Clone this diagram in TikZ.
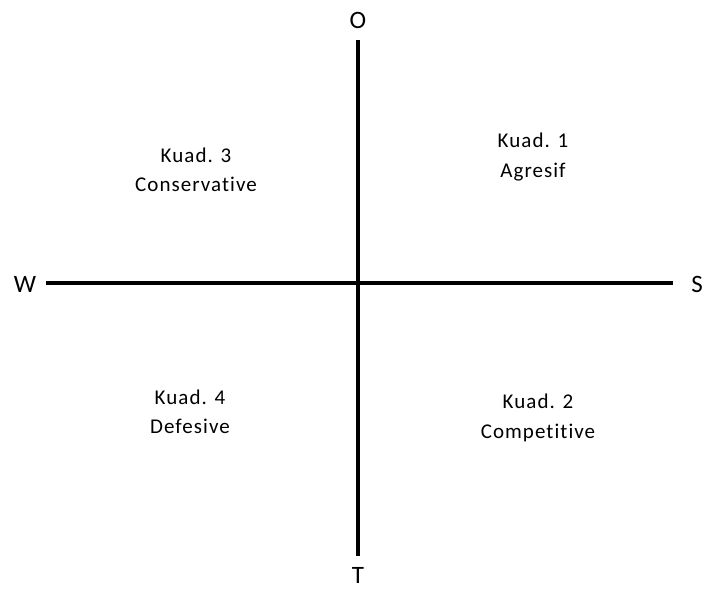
\documentclass[tikz,border=0pt]{standalone}
\usepackage{fontspec}
\setmainfont[Ligatures=NoCommon]{Carlito}
\newfontfamily\quadfont[Ligatures=NoCommon,LetterSpace=5]{Carlito}
\begin{document}
\begin{tikzpicture}[x=1pt,y=-1pt,
  axis/.style={line width=3.2pt,black},
  axlabel/.style={font=\fontsize{25}{30}\selectfont,inner sep=0pt},
  quad/.style={font=\quadfont\fontsize{21}{29.5}\selectfont,align=center,inner sep=0pt}]
\useasboundingbox (0,0) rectangle (713,592);
\node[axlabel] (O) at (358,20) {O};
\node[axlabel] (T) at (358,575) {T};
\node[axlabel] (W) at (25,284) {W};
\node[axlabel] (S) at (697,284) {S};
\coordinate (top) at (358,40);
\coordinate (bot) at (358,556);
\coordinate (left) at (46,283);
\coordinate (right) at (673,283);
\draw[axis] (top) -- (bot);
\draw[axis] (left) -- (right);
\node[quad] (q1) at (533,157) {Kuad. 1\\Agresif};
\node[quad] (q3) at (196,170) {Kuad. 3\\Conservative};
\node[quad] (q4) at (190,412) {Kuad. 4\\Defesive};
\node[quad] (q2) at (538,418) {Kuad. 2\\Competitive};
\end{tikzpicture}
\end{document}
